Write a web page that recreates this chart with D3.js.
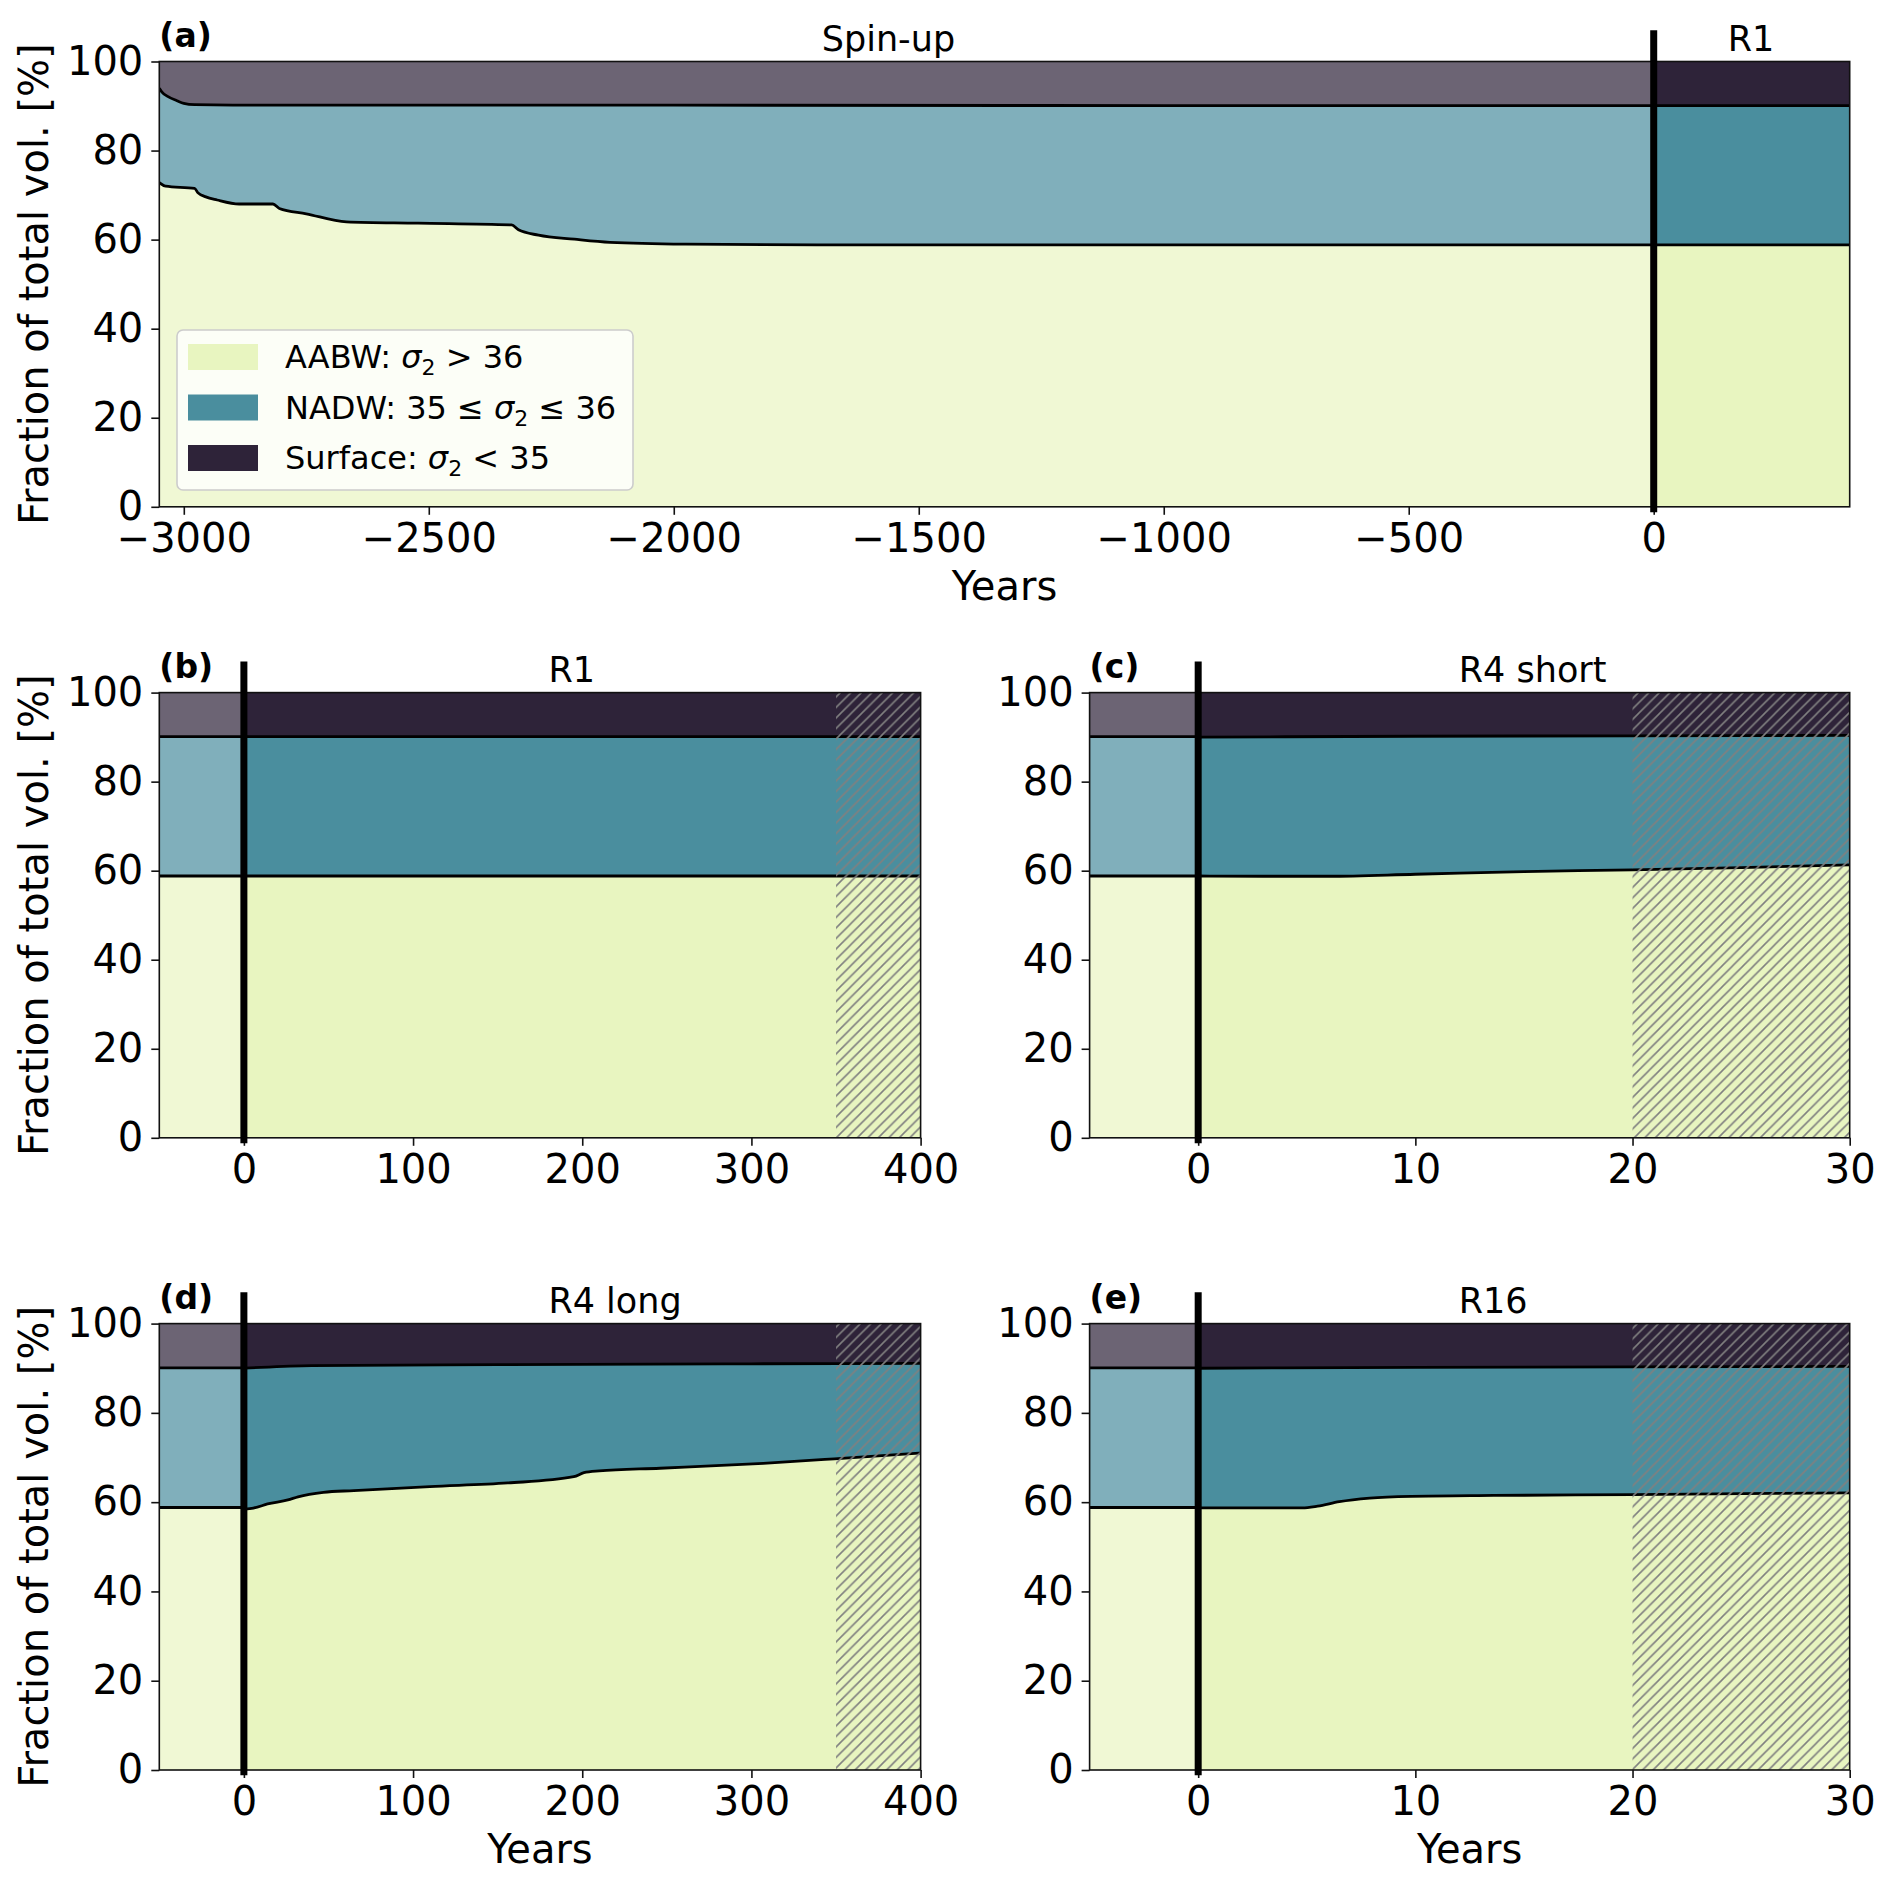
<!DOCTYPE html>
<html>
<head>
<meta charset="utf-8">
<script src="https://cdn.jsdelivr.net/npm/d3@7"></script>
<style>
  body { margin: 0; background: #fff; }
  svg { display: block; font-family: "DejaVu Sans", sans-serif; }
</style>
</head>
<body>
<div id="chart"></div>
<script>
// ---- data (percent of total volume) ----
// spin-up: upper edge of AABW and upper edge of AABW+NADW ("deep")
var spinYearsAABW = [-3050, -3037, -2978, -2971, -2955, -2932, -2887, -2818, -2805, -2750, -2668, -2522, -2331, -2317, -2276, -2203, -2130, -1976, -1640, -1000, -500, 0];
var spinAABW      = [72.8, 72.0, 71.5, 70.5, 69.6, 68.9, 68.0, 68.0, 67.0, 65.8, 64.0, 63.7, 63.3, 62.2, 61.0, 60.1, 59.4, 59.0, 58.8, 58.8, 58.8, 58.8];
var spinYearsDeep = [-3050, -3045, -3032, -3014, -3000, -2978, -2900, -2000, -1000, 0];
var spinDeep      = [94.0, 93.2, 92.1, 91.2, 90.6, 90.3, 90.2, 90.2, 90.1, 90.1];

var r1Years     = [0, 100, 200, 300, 400];
var r1AABW      = [58.8, 58.8, 58.8, 58.8, 58.8];
var r1Deep      = [90.1, 90.1, 90.1, 90.1, 90.1];

var r4sYearsAABW = [0, 3, 6, 10, 15, 20, 25, 30];
var r4sAABW      = [58.8, 58.75, 58.75, 59.2, 59.8, 60.2, 60.7, 61.3];
var r4sYearsDeep = [0, 10, 20, 30];
var r4sDeep      = [90.0, 90.2, 90.3, 90.4];

var r4lYearsAABW = [0, 2, 6, 14, 26, 32, 47, 65, 110, 156, 195, 201, 210, 246, 307, 349, 400];
var r4lAABW      = [58.8, 58.5, 58.7, 59.6, 60.5, 61.2, 62.2, 62.6, 63.5, 64.3, 65.7, 66.6, 67.0, 67.6, 68.7, 69.7, 71.0];
var r4lYearsDeep = [0, 10, 40, 150, 300, 400];
var r4lDeep      = [90.0, 90.2, 90.6, 90.8, 91.0, 91.1];

var r16YearsAABW = [0, 4.8, 5.5, 6.5, 7.9, 9.8, 13.6, 20, 30];
var r16AABW      = [58.7, 58.7, 59.1, 60.1, 60.9, 61.3, 61.5, 61.7, 62.1];
var r16YearsDeep = [0, 10, 20, 30];
var r16Deep      = [90.0, 90.2, 90.3, 90.4];

var yTicks      = [0, 20, 40, 60, 80, 100];
var xTicksSpin  = [-3000, -2500, -2000, -1500, -1000, -500, 0];
var xTicksLong  = [0, 100, 200, 300, 400];
var xTicksShort = [0, 10, 20, 30];

// legend rows: [prefix, symbol, subscript, suffix]
var legendKeys   = ["aabw", "nadw", "surf"];
var legendLabels = [
    ["AABW: ", "\u03c3", "2", " > 36"],
    ["NADW: 35 \u2264 ", "\u03c3", "2", " \u2264 36"],
    ["Surface: ", "\u03c3", "2", " < 35"]
];

var runColors  = { aabw: "#e8f5c0", nadw: "#4a8e9e", surf: "#2e2339" };
var spinColors = { aabw: "#f0f8d4", nadw: "#80afbb", surf: "#6c6474" };

function pairs(xs, ys) {
    return xs.map(function (x, i) { return [x, ys[i]]; });
}

var spin = { aabw: pairs(spinYearsAABW, spinAABW), deep: pairs(spinYearsDeep, spinDeep) };
var runs = {
    R1:  { aabw: pairs(r1Years, r1AABW),           deep: pairs(r1Years, r1Deep) },
    R4s: { aabw: pairs(r4sYearsAABW, r4sAABW),     deep: pairs(r4sYearsDeep, r4sDeep) },
    R4l: { aabw: pairs(r4lYearsAABW, r4lAABW),     deep: pairs(r4lYearsDeep, r4lDeep) },
    R16: { aabw: pairs(r16YearsAABW, r16AABW),     deep: pairs(r16YearsDeep, r16Deep) }
};

// panel frames in pixels
var panels = [
    { letter: "(a)", left: 159.3, right: 1849.7, top: 61.5, bottom: 506.8, domain: [-3050, 400],
      xTicks: xTicksSpin, run: "R1", hatchFrom: null, ylabel: true, xlabel: true, legend: true,
      titles: [{ text: "Spin-up", x: -1698 }, { text: "R1", x: 151 }] },
    { letter: "(b)", left: 159.3, right: 920.6, top: 692.6, bottom: 1137.8, domain: [-50, 400],
      xTicks: xTicksLong, run: "R1", hatchFrom: 350, ylabel: true, xlabel: false,
      titles: [{ text: "R1", x: 180 }] },
    { letter: "(c)", left: 1089.6, right: 1849.7, top: 692.6, bottom: 1137.8, domain: [-5, 30],
      xTicks: xTicksShort, run: "R4s", hatchFrom: 20, ylabel: false, xlabel: false,
      titles: [{ text: "R4 short", x: 12 }] },
    { letter: "(d)", left: 159.3, right: 920.6, top: 1323.6, bottom: 1770, domain: [-50, 400],
      xTicks: xTicksLong, run: "R4l", hatchFrom: 350, ylabel: true, xlabel: true,
      titles: [{ text: "R4 long", x: 180 }] },
    { letter: "(e)", left: 1089.6, right: 1849.7, top: 1323.6, bottom: 1770, domain: [-5, 30],
      xTicks: xTicksShort, run: "R16", hatchFrom: 20, ylabel: false, xlabel: true,
      titles: [{ text: "R16", x: 12 }] }
];

var svg = d3.select("#chart").append("svg")
    .attr("width", 1892)
    .attr("height", 1884);

var defs = svg.append("defs");

// matplotlib style "///" hatch
var hatch = defs.append("pattern")
    .attr("id", "hatch")
    .attr("patternUnits", "userSpaceOnUse")
    .attr("width", 10.5)
    .attr("height", 10.5);
hatch.append("path")
    .attr("d", "M-2.625,2.625 l5.25,-5.25 M0,10.5 l10.5,-10.5 M7.875,13.125 l5.25,-5.25")
    .attr("stroke", "#808080")
    .attr("stroke-width", 1.6);

var fmt = function (d) { return d < 0 ? "\u2212" + Math.abs(d) : String(d); };

panels.forEach(function (p, pi) {
    var x = d3.scaleLinear().domain(p.domain).range([p.left, p.right]);
    var y = d3.scaleLinear().domain([0, 100]).range([p.bottom, p.top]);

    defs.append("clipPath").attr("id", "clip" + pi)
        .append("rect")
        .attr("x", p.left).attr("y", p.top)
        .attr("width", p.right - p.left).attr("height", p.bottom - p.top);

    var g = svg.append("g").attr("clip-path", "url(#clip" + pi + ")");

    var topArea = d3.area().curve(d3.curveMonotoneX)
        .x(function (d) { return x(d[0]); })
        .y0(y(100))
        .y1(function (d) { return y(d[1]); });
    var lowArea = d3.area().curve(d3.curveMonotoneX)
        .x(function (d) { return x(d[0]); })
        .y0(y(0))
        .y1(function (d) { return y(d[1]); });
    var edge = d3.line().curve(d3.curveMonotoneX)
        .x(function (d) { return x(d[0]); })
        .y(function (d) { return y(d[1]); });

    // layers: surface above deep edge, NADW below it, AABW painted over
    [[spin, spinColors], [runs[p.run], runColors]].forEach(function (s) {
        var data = s[0], col = s[1];
        g.append("path").attr("d", topArea(data.deep)).attr("fill", col.surf);
        g.append("path").attr("d", lowArea(data.deep)).attr("fill", col.nadw);
        g.append("path").attr("d", lowArea(data.aabw)).attr("fill", col.aabw);
    });
    [spin, runs[p.run]].forEach(function (data) {
        ["deep", "aabw"].forEach(function (k) {
            g.append("path").attr("d", edge(data[k]))
                .attr("fill", "none")
                .attr("stroke", "#000")
                .attr("stroke-width", 2.8);
        });
    });

    if (p.hatchFrom !== null) {
        g.append("rect")
            .attr("x", x(p.hatchFrom)).attr("y", y(100))
            .attr("width", x(p.domain[1]) - x(p.hatchFrom))
            .attr("height", y(0) - y(100))
            .attr("fill", "url(#hatch)");
    }

    // frame
    svg.append("rect")
        .attr("x", p.left).attr("y", p.top)
        .attr("width", p.right - p.left).attr("height", p.bottom - p.top)
        .attr("fill", "none").attr("stroke", "#111").attr("stroke-width", 1.6);

    // y axis
    var yAxis = svg.append("g")
        .attr("transform", "translate(" + p.left + ",0)")
        .call(d3.axisLeft(y).tickValues(yTicks).tickSize(8).tickPadding(8).tickFormat(fmt));
    // x axis
    var xAxis = svg.append("g")
        .attr("transform", "translate(0," + p.bottom + ")")
        .call(d3.axisBottom(x).tickValues(p.xTicks).tickSize(8).tickPadding(9).tickFormat(fmt));
    [yAxis, xAxis].forEach(function (ax) {
        ax.select(".domain").remove();
        ax.selectAll(".tick line").attr("stroke", "#111").attr("stroke-width", 1.6);
        ax.selectAll(".tick text").attr("font-size", 40).attr("fill", "#000")
            .attr("font-family", "DejaVu Sans, sans-serif");
    });

    // the restart at year 0
    svg.append("line")
        .attr("x1", x(0)).attr("x2", x(0))
        .attr("y1", y(-1.2)).attr("y2", y(107))
        .attr("stroke", "#000").attr("stroke-width", 7);

    svg.append("text")
        .attr("x", p.left).attr("y", p.top - 15)
        .attr("font-size", 33).attr("font-weight", "bold")
        .text(p.letter);
    p.titles.forEach(function (t) {
        svg.append("text")
            .attr("x", x(t.x)).attr("y", p.top - 11)
            .attr("font-size", 35)
            .text(t.text);
    });

    if (p.ylabel) {
        svg.append("text")
            .attr("transform", "translate(48," + (p.top + p.bottom) / 2 + ") rotate(-90)")
            .attr("text-anchor", "middle")
            .attr("font-size", 40)
            .text("Fraction of total vol. [%]");
    }
    if (p.xlabel) {
        svg.append("text")
            .attr("x", (p.left + p.right) / 2).attr("y", p.bottom + 93)
            .attr("text-anchor", "middle")
            .attr("font-size", 40)
            .text("Years");
    }

    if (p.legend) {
        var lg = svg.append("g");
        lg.append("rect")
            .attr("x", 177).attr("y", 330).attr("width", 456).attr("height", 160)
            .attr("rx", 6)
            .attr("fill", "#fff").attr("fill-opacity", 0.8)
            .attr("stroke", "#cccccc").attr("stroke-width", 1.6);
        legendKeys.forEach(function (k, i) {
            var cy = 357 + i * 50.5;
            lg.append("rect")
                .attr("x", 188).attr("y", cy - 13).attr("width", 70).attr("height", 26)
                .attr("fill", runColors[k]);
            var parts = legendLabels[i];
            var t = lg.append("text")
                .attr("x", 285).attr("y", cy + 11)
                .attr("font-size", 32)
                .attr("xml:space", "preserve");
            t.append("tspan").text(parts[0]);
            t.append("tspan").attr("font-style", "italic").text(parts[1]);
            t.append("tspan").attr("font-size", 22).attr("dy", 7).text(parts[2]);
            t.append("tspan").attr("dy", -7).text(parts[3]);
        });
    }
});
</script>
</body>
</html>
